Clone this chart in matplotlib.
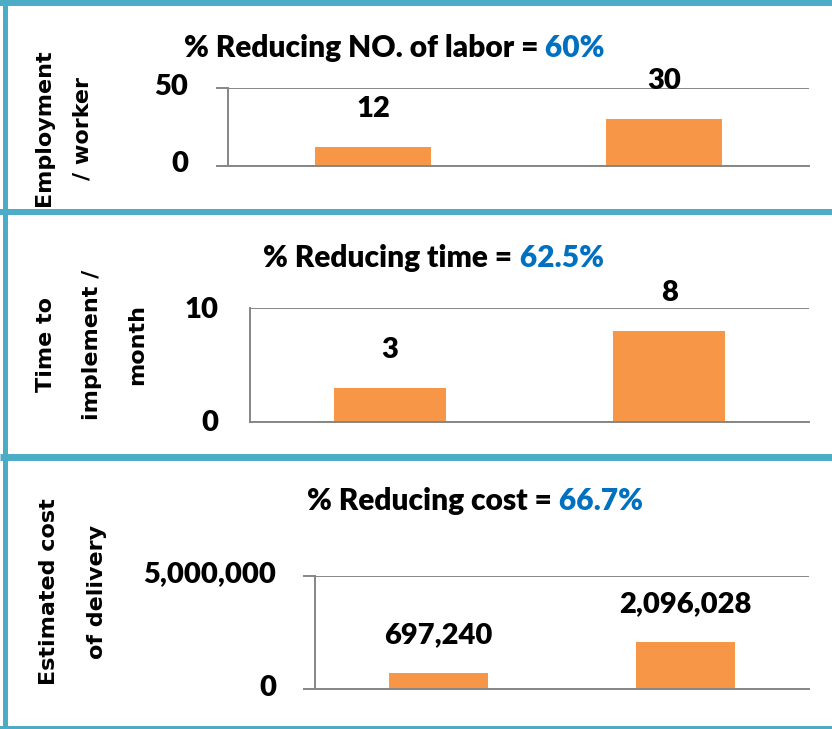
import numpy as np
import matplotlib.pyplot as plt
import matplotlib.transforms as mtransforms
from matplotlib.lines import Line2D
from matplotlib.ticker import FuncFormatter

plt.rcParams['font.family'] = 'Lato'

W, H = 832, 729
fig = plt.figure(figsize=(W / 100, H / 100), dpi=100)

## the data
cases = ['Proposed', 'Current']
labor = [12, 30]
months = [3, 8]
cost = [697240, 2096028]
y_max = [50, 10, 5000000]
title_text = ['% Reducing NO. of labor =', '% Reducing time =', '% Reducing cost =']
title_pct = ['60%', '62.5%', '66.7%']
y_labels = ['Employment\n/ worker', 'Time to\nimplement /\nmonth', 'Estimated cost\nof delivery']

teal = '#4BACC6'
orange = '#F79646'
gray = '#868686'
blue = '#0070C0'
fs = 21.5
wt = 800


def px_box(l, t, r, b):
    # pixel box (from top-left) -> figure fraction
    return [l / W, 1 - b / H, (r - l) / W, (b - t) / H]


## panel borders
for y, lw in [(3, 4.3), (212, 4.3), (456.5, 5.0), (729, 4.3)]:
    fig.add_artist(Line2D([0, 1], [1 - y / H, 1 - y / H], transform=fig.transFigure,
                          color=teal, lw=lw, solid_capstyle='butt'))
fig.add_artist(Line2D([4.5 / W, 4.5 / W], [0, 1], transform=fig.transFigure,
                      color=teal, lw=3.6, solid_capstyle='butt'))

## axes
boxes = [(228, 88, 809, 166), (250, 308, 809, 422), (315, 576, 809, 689)]
tick_len = [8.6, 0, 8.6]
tick_pad = [20, 23, 19.5]
tick_shift = [4, 1, 4]      # px, tick labels sit a bit above their lines
series = [labor, months, cost]
title_pos = [(394.5, 57), (433.5, 267), (475, 510)]   # centre x, baseline y
ylab_pos = [(63, 128), (92, 345), (73, 592)]
ylab_space = [2.15, 2.6, 2.8]

ind = np.arange(len(cases))
titles = []
for k in range(3):
    ax = fig.add_axes(px_box(*boxes[k]))
    ax.bar(ind, series[k], 0.4, color=orange, zorder=2)
    ax.set_xlim(-0.5, 1.5)
    ax.set_ylim(0, y_max[k])
    ax.set_yticks([0, y_max[k]])
    ax.set_xticks([])
    ax.yaxis.set_major_formatter(FuncFormatter(lambda v, p: f'{v:,.0f}'))
    ax.grid(axis='y', color=gray, lw=1.4, zorder=1)
    for s in ['top', 'right']:
        ax.spines[s].set_visible(False)
    for s in ['left', 'bottom']:
        ax.spines[s].set_color(gray)
        ax.spines[s].set_linewidth(1.4)
    ax.tick_params(axis='y', length=tick_len[k], width=1.4, color=gray,
                   pad=tick_pad[k], labelsize=21)
    off = mtransforms.ScaledTranslation(0, tick_shift[k] / 100, fig.dpi_scale_trans)
    for lbl in ax.get_yticklabels():
        lbl.set_fontweight(wt)
        lbl.set_transform(lbl.get_transform() + off)
    for xi, v in zip(ind, series[k]):
        ax.annotate(f'{v:,}', (xi, v), xytext=(0, 21.6), textcoords='offset points',
                    ha='center', va='baseline', fontsize=21, fontweight=wt,
                    annotation_clip=False)

    # title in two colours
    tx, ty = title_pos[k]
    t = fig.text(tx / W, 1 - ty / H, title_text[k], ha='left', va='baseline',
                 fontsize=fs, fontweight=wt, color='black')
    t2 = ax.annotate(' ' + title_pct[k], xy=(1, 0), xycoords=t, ha='left', va='bottom',
                     fontsize=fs, fontweight=wt, color=blue, annotation_clip=False)
    titles.append((t, t2, tx))

    # y label
    lx, ly = ylab_pos[k]
    fig.text(lx / W, 1 - ly / H, y_labels[k], rotation=90, ha='center', va='center',
             family='DejaVu Sans', fontweight='bold', fontsize=16,
             linespacing=ylab_space[k], multialignment='center')

# centre each two-colour title on its reference position
fig.canvas.draw()
r = fig.canvas.get_renderer()
for t, t2, cx in titles:
    x0 = t.get_window_extent(r).x0
    x1 = t2.get_window_extent(r).x1
    t.set_x((cx - (x1 - x0) / 2) / W)

fig.savefig('out.png', dpi=100)
